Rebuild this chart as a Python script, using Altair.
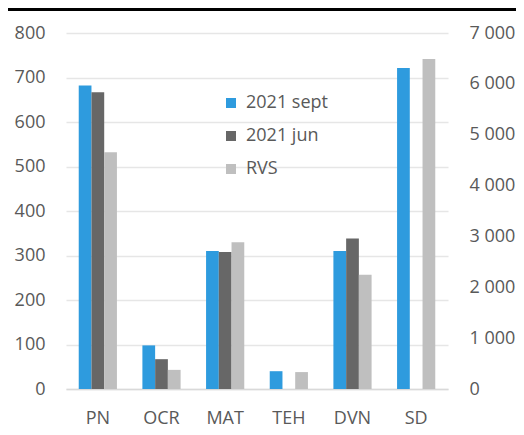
import altair as alt
import pandas as pd

categories = ["PN", "OCR", "MAT", "TEH", "DVN", "SD"]
series = ["2021 sept", "2021 jun", "RVS"]
sept = [682, 98, 310, 40, 310, 6310]
jun = [667, 67, 308, None, 338, None]
rvs = [532, 43, 330, 38, 257, 6490]
right_axis_cats = ["SD"]

rows = []
for i, c in enumerate(categories):
    for s, vals in zip(series, [sept, jun, rvs]):
        v = vals[i]
        if v is None:
            continue
        rows.append({"cat": c, "series": s, "value": v,
                     "side": "right" if c in right_axis_cats else "left"})
df = pd.DataFrame(rows)
left_df = df[df.side == "left"]
right_df = df[df.side == "right"]

colors = ["#2E9BDE", "#676767", "#BFBFBF"]
FONT = "Open Sans"
LABEL = "#595959"

x_enc = alt.X("cat:N", sort=categories,
              scale=alt.Scale(domain=categories, paddingInner=0.4, paddingOuter=0.2),
              axis=alt.Axis(title=None, labelAngle=0, ticks=False, tickSize=0,
                            labelPadding=20, domainColor="#D9D9D9", domainWidth=1.3,
                            labelFontSize=18, labelColor=LABEL, labelFont=FONT))
xo_enc = alt.XOffset("series:N", sort=series, scale=alt.Scale(domain=series))
color_enc = alt.Color("series:N", sort=series,
                      scale=alt.Scale(domain=series, range=colors),
                      legend=alt.Legend(title=None, orient="none", legendX=156, legendY=61,
                                        symbolType="square", symbolSize=100,
                                        symbolStrokeWidth=0, labelFontSize=18,
                                        labelFont=FONT, labelColor=LABEL,
                                        rowPadding=15, labelOffset=6, padding=0))

left = alt.Chart(left_df).mark_bar().encode(
    x=x_enc, xOffset=xo_enc, color=color_enc,
    y=alt.Y("value:Q", scale=alt.Scale(domain=[0, 800], nice=False),
            axis=alt.Axis(title=None, orient="left", values=list(range(0, 801, 100)),
                          ticks=False, tickSize=0, domain=False, labelPadding=21,
                          gridColor="#E6E6E6", gridWidth=1.3,
                          labelFontSize=18, labelColor=LABEL, labelFont=FONT)),
)

right = alt.Chart(right_df).mark_bar().encode(
    x=x_enc, xOffset=xo_enc,
    color=alt.Color("series:N", sort=series,
                    scale=alt.Scale(domain=series, range=colors), legend=None),
    y=alt.Y("value:Q", scale=alt.Scale(domain=[0, 7000], nice=False),
            axis=alt.Axis(title=None, orient="right", values=list(range(0, 7001, 1000)),
                          format=",d", ticks=False, tickSize=0, domain=False,
                          grid=False, labelPadding=21,
                          labelFontSize=18, labelColor=LABEL, labelFont=FONT,
                          labelExpr="replace(datum.label, ',', ' ')")),
)

topline = alt.Chart(pd.DataFrame({"a": [0]})).mark_rule(color="black", strokeWidth=3).encode(
    x=alt.value(-58), x2=alt.value(450), y=alt.value(-23.5))

chart = alt.layer(left, right, topline).resolve_scale(y="independent").properties(
    width=382, height=356,
    autosize=alt.AutoSizeParams(type="none"),
    padding={"left": 58, "top": 25, "right": 68, "bottom": 38},
).configure_view(stroke=None)

chart.save("out.html", embed_options={"renderer": "svg", "actions": False})
